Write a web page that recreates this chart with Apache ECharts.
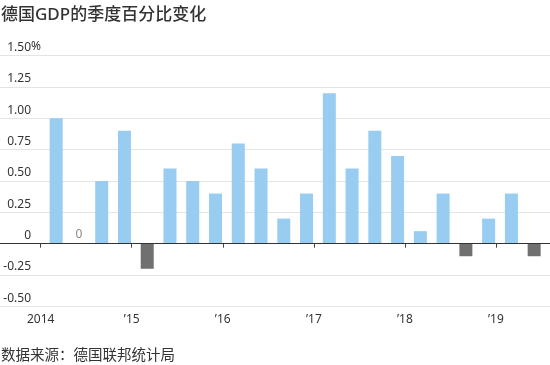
<!DOCTYPE html>
<html>
<head>
<meta charset="utf-8">
<script src="https://cdn.jsdelivr.net/npm/echarts@6/dist/echarts.min.js"></script>
<style>
html,body{margin:0;padding:0;background:#fff;}
#c{width:550px;height:365px;}
</style>
</head>
<body>
<div id="c"></div>
<script>
// Data
var years    = [2014,2014,2014,2014,2015,2015,2015,2015,2016,2016,2016,2016,2017,2017,2017,2017,2018,2018,2018,2018,2019,2019];
var quarters = [1,2,3,4,1,2,3,4,1,2,3,4,1,2,3,4,1,2,3,4,1,2];
var gdpChange = [1.0,0,0.5,0.9,-0.2,0.6,0.5,0.4,0.8,0.6,0.2,0.4,1.2,0.6,0.9,0.7,0.1,0.4,-0.1,0.2,0.4,-0.1];
var yearTicks = [2014,2015,2016,2017,2018,2019];
var yTicks = [-0.5,-0.25,0,0.25,0.5,0.75,1.0,1.25,1.5];

var titleText = '德国GDP的季度百分比变化';
var sourceText = '数据来源：德国联邦统计局';
var unitText = '%';

var FONT = '"Noto Sans","Noto Sans CJK SC",sans-serif';
var BAR_OFFSET = 0.17;

var seriesData = gdpChange.map(function(v,i){
  return {
    value: [years[i] + (quarters[i]-1)/4 + BAR_OFFSET, v],
    itemStyle: {color: v < 0 ? '#707070' : '#98ccf0'}
  };
});

var chart = echarts.init(document.getElementById('c'), null, {renderer:'canvas'});
chart.setOption({
  animation: false,
  textStyle: {fontFamily: FONT},
  title: [
    {text: titleText, left: -4, top: 2,
     textStyle: {fontFamily: FONT, fontSize: 17, fontWeight: 500, color: '#333'}},
    {text: sourceText, left: -4, top: 344,
     textStyle: {fontFamily: FONT, fontSize: 14.5, fontWeight: 'normal', color: '#333'}}
  ],
  graphic: [{
    type: 'text',
    left: 31,
    top: 41,
    style: {text: unitText, fontSize: 12, fill: '#333', fontFamily: FONT}
  }],
  grid: {left: 0, right: 0, top: 55.6, bottom: 58.6},
  xAxis: {
    type: 'value',
    min: 2013.553,
    max: 2019.594,
    splitLine: {show: false},
    axisLine: {show: false},
    axisTick: {show: true, length: 4, customValues: yearTicks, lineStyle: {color: '#444'}},
    axisLabel: {
      customValues: yearTicks,
      margin: 7,
      fontSize: 12,
      color: '#333',
      fontFamily: FONT,
      formatter: function(v){
        var y = Math.round(v);
        return y === 2014 ? String(y) : '\u2019' + String(y).slice(2);
      }
    }
  },
  yAxis: {
    type: 'value',
    min: -0.5,
    max: 1.5,
    interval: 0.25,
    axisLine: {show: false},
    axisTick: {show: false},
    splitLine: {show: true, lineStyle: {color: '#e4e4e4', width: 1}},
    axisLabel: {
      inside: true,
      align: 'right',
      margin: 31,
      verticalAlign: 'bottom',
      lineHeight: 16,
      fontSize: 12,
      color: '#333',
      fontFamily: FONT,
      formatter: function(v){
        if (Math.abs(v) < 1e-9) return '0';
        return v.toFixed(2);
      }
    }
  },
  series: [{
    type: 'bar',
    barWidth: 13,
    data: seriesData,
    label: {
      show: true,
      position: 'top',
      distance: 3,
      fontSize: 12,
      color: '#888',
      fontFamily: FONT,
      formatter: function(p){ return p.value[1] === 0 ? '0' : ''; }
    },
    markLine: {
      silent: true,
      symbol: 'none',
      label: {show: false},
      lineStyle: {color: '#333', width: 1, type: 'solid'},
      data: [{yAxis: 0}]
    }
  }]
});
</script>
</body>
</html>
